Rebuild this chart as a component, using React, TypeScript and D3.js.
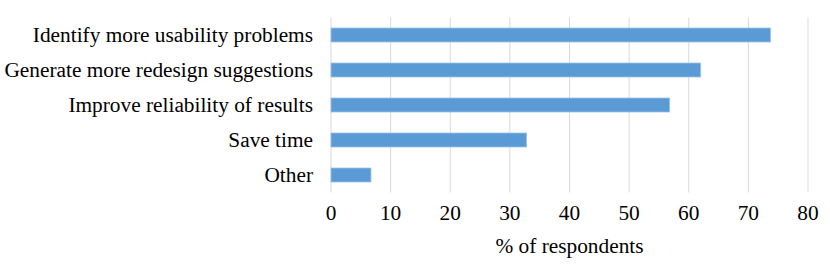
import * as d3 from "d3"

const categories = [
  "Identify more usability problems",
  "Generate more redesign suggestions",
  "Improve reliability of results",
  "Save time",
  "Other",
]
const values = [73.7, 62.0, 56.8, 32.8, 6.7]
const xTicks = [0, 10, 20, 30, 40, 50, 60, 70, 80]
const xTitle = "% of respondents"

const width = 830
const height = 265
const margin = { top: 17.5, right: 22, bottom: 72.5, left: 331 }
const font = "Liberation Serif"
const fontSize = 21.33

export default function App() {
  const x = d3.scaleLinear().domain([0, 80]).range([margin.left, width - margin.right])
  const y = d3
    .scaleBand<string>()
    .domain(categories)
    .range([margin.top, height - margin.bottom])
    .paddingInner(0.6)
    .paddingOuter(0.3)

  return (
    <svg width={width} height={height} style={{ position: "absolute", left: 0, top: 0 }}>
      {/* gridlines */}
      <g>
        {xTicks.map(t => (
          <line
            key={t}
            x1={x(t)}
            x2={x(t)}
            y1={margin.top}
            y2={height - margin.bottom}
            stroke="#d9d9d9"
            strokeWidth={1}
          />
        ))}
      </g>

      {/* bars */}
      <g>
        {categories.map((c, i) => (
          <rect
            key={c}
            x={x(0)}
            y={y(c) ?? 0}
            width={x(values[i]) - x(0)}
            height={y.bandwidth()}
            fill="#5b9bd5"
            stroke="#9dc3e6"
            strokeWidth={0.8}
          />
        ))}
      </g>

      {/* category labels */}
      <g>
        {categories.map(c => (
          <text
            key={c}
            x={313}
            y={(y(c) ?? 0) + y.bandwidth() / 2}
            dy="0.35em"
            textAnchor="end"
            fontFamily={font}
            fontSize={fontSize}
            fill="#000"
          >
            {c}
          </text>
        ))}
      </g>

      {/* x tick labels */}
      <g>
        {xTicks.map(t => (
          <text
            key={t}
            x={x(t)}
            y={213}
            dy="0.35em"
            textAnchor="middle"
            fontFamily={font}
            fontSize={fontSize}
            fill="#000"
          >
            {t}
          </text>
        ))}
      </g>

      <text
        x={(x(0) + x(80)) / 2}
        y={246}
        dy="0.35em"
        textAnchor="middle"
        fontFamily={font}
        fontSize={fontSize}
        fill="#000"
      >
        {xTitle}
      </text>
    </svg>
  )
}
